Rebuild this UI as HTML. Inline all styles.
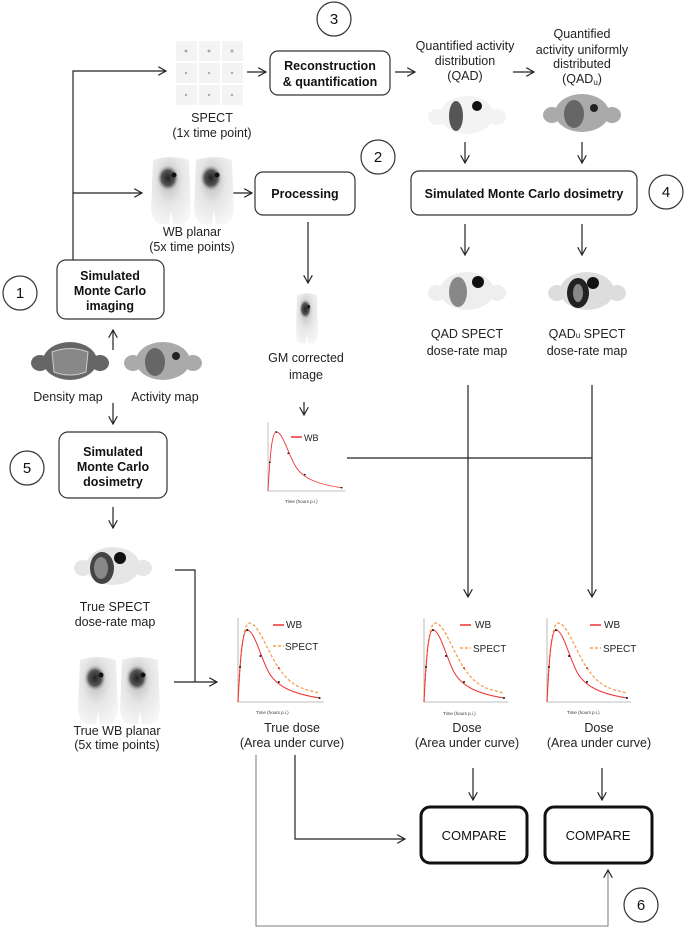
<!DOCTYPE html>
<html><head><meta charset="utf-8"><style>
html,body{margin:0;padding:0;background:#fff}
svg{display:block}
text{font-family:"Liberation Sans",sans-serif;fill:#222}
.l{font-size:12.5px;text-anchor:middle}
.b{font-size:12.5px;font-weight:bold;text-anchor:middle;fill:#111}
.n{font-size:15px;text-anchor:middle;fill:#111}
.s{font-size:4.5px;fill:#333}
</style></head><body>
<svg width="685" height="928" viewBox="0 0 685 928" xmlns="http://www.w3.org/2000/svg">
<defs>
<marker id="a" viewBox="0 0 10 10" refX="9" refY="5" markerWidth="9" markerHeight="9" orient="auto" markerUnits="userSpaceOnUse">
<path d="M0,0 L9,5 L0,10" fill="none" stroke="#222" stroke-width="1.3"/></marker>
<radialGradient id="wbg" cx="0.45" cy="0.35" r="0.7"><stop offset="0" stop-color="#bbb"/><stop offset="0.5" stop-color="#e6e6e6"/><stop offset="1" stop-color="#f6f6f6"/></radialGradient>
<radialGradient id="core" cx="0.5" cy="0.5" r="0.5"><stop offset="0" stop-color="#222"/><stop offset="0.6" stop-color="#555"/><stop offset="1" stop-color="#bbb" stop-opacity="0"/></radialGradient>
<g id="slice">
<ellipse cx="-30" cy="2" rx="9" ry="8"/><ellipse cx="30" cy="2" rx="9" ry="8"/>
<ellipse cx="0" cy="0" rx="27" ry="19"/>
</g>
<g id="wb">
<path d="M-18,-30 Q0,-36 18,-30 L20,20 Q18,34 10,34 L2,34 L0,20 L-2,34 L-10,34 Q-18,34 -20,20 Z" fill="url(#wbg)"/>
<ellipse cx="-3" cy="-12" rx="11" ry="13" fill="url(#core)"/>
<circle cx="3" cy="-15" r="2.5" fill="#111"/>
</g>
<g id="red"><path d="M0,0 C2,-40 4,-72 9,-72 C16,-72 22,-45 30,-30 S55,-8 80,-4" fill="none" stroke="#e33" stroke-width="1"/>
<circle cx="2" cy="-35" r="1" fill="#111"/><circle cx="9" cy="-72" r="1" fill="#111"/><circle cx="22" cy="-46" r="1" fill="#111"/><circle cx="40" cy="-20" r="1" fill="#111"/><circle cx="80" cy="-4" r="1" fill="#111"/></g>
<g id="ora"><path d="M0,0 C2,-45 5,-79 11,-79 C20,-79 28,-52 40,-34 S62,-13 80,-9" fill="none" stroke="#f5a050" stroke-width="1.3" stroke-dasharray="3,2"/>
<circle cx="40" cy="-34" r="1" fill="#c33"/></g>
<g id="ax"><path d="M0,-84 L0,0 L84,0" fill="none" stroke="#aaa" stroke-width="0.8"/></g>
</defs>
<g stroke="#222" stroke-width="1.2" fill="none">
<path d="M73,260 V71 H166" marker-end="url(#a)"/>
<path d="M73,193 H142" marker-end="url(#a)"/>
<path d="M247,72 H266" marker-end="url(#a)"/>
<path d="M395,72 H415" marker-end="url(#a)"/>
<path d="M513,72 H534" marker-end="url(#a)"/>
<path d="M465,142 V163" marker-end="url(#a)"/>
<path d="M582,142 V163" marker-end="url(#a)"/>
<path d="M465,224 V255" marker-end="url(#a)"/>
<path d="M582,224 V255" marker-end="url(#a)"/>
<path d="M231,193 H252" marker-end="url(#a)"/>
<path d="M308,222 V283" marker-end="url(#a)"/>
<path d="M304,402 V415" marker-end="url(#a)"/>
<path d="M113,350 V330" marker-end="url(#a)"/>
<path d="M113,403 V424" marker-end="url(#a)"/>
<path d="M113,507 V528" marker-end="url(#a)"/>
<path d="M468,385 V597" marker-end="url(#a)"/>
<path d="M592,385 V597" marker-end="url(#a)"/>
<path d="M347,458 H592"/>
<path d="M175,570 H195 V682"/>
<path d="M174,682 H217" marker-end="url(#a)"/>
<path d="M295,755 V839 H405" marker-end="url(#a)"/>
<path d="M256,755 V926 H608 V870" marker-end="url(#a)" stroke-width="0.8" stroke="#555"/>
<path d="M473,768 V800" marker-end="url(#a)"/>
<path d="M602,768 V800" marker-end="url(#a)"/>
</g>
<g fill="#fff" stroke="#333" stroke-width="1.2">
<rect x="270" y="51" width="120" height="44" rx="8"/>
<rect x="411" y="171" width="226" height="44" rx="8"/>
<rect x="255" y="172" width="100" height="43" rx="8"/>
<rect x="57" y="260" width="107" height="59" rx="9"/>
<rect x="59" y="432" width="108" height="66" rx="9"/>
<rect x="421" y="807" width="106" height="56" rx="9" stroke-width="3" stroke="#111"/>
<rect x="545" y="807" width="107" height="56" rx="9" stroke-width="3" stroke="#111"/>
<circle cx="334" cy="19" r="17"/><circle cx="378" cy="157" r="17"/><circle cx="666" cy="192" r="17"/>
<circle cx="20" cy="293" r="17"/><circle cx="27" cy="468" r="17"/><circle cx="641" cy="905" r="17"/>
</g>
<g class="n"><text x="334" y="24" class="n">3</text><text x="378" y="162" class="n">2</text><text x="666" y="197" class="n">4</text><text x="20" y="298" class="n">1</text><text x="27" y="473" class="n">5</text><text x="641" y="910" class="n">6</text></g>
<text class="b" x="330" y="70">Reconstruction</text><text class="b" x="330" y="86">&amp; quantification</text>
<text class="b" x="524" y="198">Simulated Monte Carlo dosimetry</text>
<text class="b" x="305" y="198">Processing</text>
<text class="b" x="110" y="280">Simulated</text><text class="b" x="110" y="295">Monte Carlo</text><text class="b" x="110" y="310">imaging</text>
<text class="b" x="113" y="456">Simulated</text><text class="b" x="113" y="471">Monte Carlo</text><text class="b" x="113" y="486">dosimetry</text>
<text class="b" x="474" y="840" style="font-weight:normal;font-size:13px">COMPARE</text>
<text class="b" x="598" y="840" style="font-weight:normal;font-size:13px">COMPARE</text>
<g class="l">
<text x="212" y="122">SPECT</text><text x="212" y="137">(1x time point)</text>
<text x="465" y="50">Quantified activity</text><text x="465" y="65">distribution</text><text x="465" y="80">(QAD)</text>
<text x="582" y="38">Quantified</text><text x="582" y="54">activity uniformly</text><text x="582" y="68">distributed</text><text x="582" y="83">(QAD<tspan font-size="8" dy="2">u</tspan><tspan dy="-2">)</tspan></text>
<text x="192" y="236">WB planar</text><text x="192" y="251">(5x time points)</text>
<text x="306" y="362">GM corrected</text><text x="306" y="379">image</text>
<text x="68" y="401">Density map</text><text x="165" y="401">Activity map</text>
<text x="467" y="338">QAD SPECT</text><text x="467" y="355">dose-rate map</text>
<text x="587" y="338">QAD<tspan font-size="8">u</tspan> SPECT</text><text x="587" y="355">dose-rate map</text>
<text x="115" y="611">True SPECT</text><text x="115" y="626">dose-rate map</text>
<text x="117" y="735">True WB planar</text><text x="117" y="749">(5x time points)</text>
<text x="292" y="732">True dose</text><text x="292" y="747">(Area under curve)</text>
<text x="467" y="732">Dose</text><text x="467" y="747">(Area under curve)</text>
<text x="599" y="732">Dose</text><text x="599" y="747">(Area under curve)</text>
</g>
<g fill="#f4f4f4"><rect x="176" y="41" width="21" height="20"/><rect x="199" y="41" width="21" height="20"/><rect x="222" y="41" width="21" height="20"/>
<rect x="176" y="63" width="21" height="20"/><rect x="199" y="63" width="21" height="20"/><rect x="222" y="63" width="21" height="20"/>
<rect x="176" y="85" width="21" height="20"/><rect x="199" y="85" width="21" height="20"/><rect x="222" y="85" width="21" height="20"/></g>
<g fill="#aaa"><circle cx="186" cy="51" r="1.5"/><circle cx="209" cy="51" r="1.5"/><circle cx="232" cy="51" r="1.5"/><circle cx="186" cy="73" r="1.2"/><circle cx="209" cy="73" r="1.2"/><circle cx="232" cy="73" r="1.2"/><circle cx="186" cy="95" r="1.2"/><circle cx="209" cy="95" r="1.2"/><circle cx="232" cy="95" r="1.2"/></g>
<use href="#slice" x="70" y="361" fill="#666"/>
<path d="M52,352 Q70,345 88,352 L86,372 Q70,378 54,372 Z" fill="#888" stroke="#ccc"/>
<use href="#slice" x="163" y="361" fill="#aaa"/>
<ellipse cx="155" cy="362" rx="10" ry="14" fill="#666"/><circle cx="176" cy="356" r="4" fill="#222"/>
<use href="#slice" x="582" y="113" fill="#aaa"/>
<ellipse cx="574" cy="114" rx="10" ry="14" fill="#666"/><circle cx="594" cy="108" r="4" fill="#222"/>
<use href="#slice" x="467" y="115" fill="#f3f3f3"/>
<ellipse cx="456" cy="116" rx="7" ry="15" fill="#555"/><circle cx="477" cy="106" r="5" fill="#111"/>
<use href="#slice" x="467" y="291" fill="#eee"/>
<ellipse cx="458" cy="292" rx="9" ry="15" fill="#888"/><circle cx="478" cy="282" r="6" fill="#111"/>
<use href="#slice" x="587" y="291" fill="#ddd"/>
<ellipse cx="578" cy="293" rx="11" ry="15" fill="#222"/><ellipse cx="578" cy="293" rx="5" ry="9" fill="#888"/><circle cx="593" cy="283" r="6" fill="#111"/>
<use href="#slice" x="113" y="566" fill="#e6e6e6"/>
<ellipse cx="102" cy="568" rx="12" ry="16" fill="#444"/><ellipse cx="101" cy="568" rx="7" ry="11" fill="#888"/><circle cx="120" cy="558" r="6" fill="#111"/>
<use href="#wb" x="171" y="190"/><use href="#wb" x="214" y="190"/>
<use href="#wb" x="98" y="690"/><use href="#wb" x="140" y="690"/>
<g transform="translate(307,318) scale(0.55,0.75)"><use href="#wb"/></g>
<g transform="translate(268,491) scale(0.92,0.82)"><use href="#ax"/><use href="#red"/></g>
<path d="M291,437 H302" stroke="#e33" stroke-width="1.5"/><text x="304" y="441" style="font-size:9px">WB</text>
<text class="s" x="285" y="503">Time (hours p.i.)</text>
<g transform="translate(238,702) scale(1.02,1)"><use href="#ax"/><use href="#ora"/><use href="#red"/></g>
<g transform="translate(424,702)"><use href="#ax"/><use href="#ora"/><use href="#red"/></g>
<g transform="translate(547,702)"><use href="#ax"/><use href="#ora"/><use href="#red"/></g>
<g style="font-size:10px">
<path d="M273,625 H284" stroke="#e33" stroke-width="1.5"/><text x="286" y="628">WB</text>
<path d="M273,646 H284" stroke="#f5a050" stroke-width="1.5" stroke-dasharray="3,2"/><text x="285" y="650">SPECT</text>
<path d="M460,625 H471" stroke="#e33" stroke-width="1.5"/><text x="475" y="628">WB</text>
<path d="M460,648 H471" stroke="#f5a050" stroke-width="1.5" stroke-dasharray="3,2"/><text x="473" y="652">SPECT</text>
<path d="M590,625 H601" stroke="#e33" stroke-width="1.5"/><text x="604" y="628">WB</text>
<path d="M590,648 H601" stroke="#f5a050" stroke-width="1.5" stroke-dasharray="3,2"/><text x="603" y="652">SPECT</text>
</g>
<text class="s" x="256" y="714">Time (hours p.i.)</text>
<text class="s" x="443" y="715">Time (hours p.i.)</text>
<text class="s" x="567" y="714">Time (hours p.i.)</text>
</svg>
</body></html>
